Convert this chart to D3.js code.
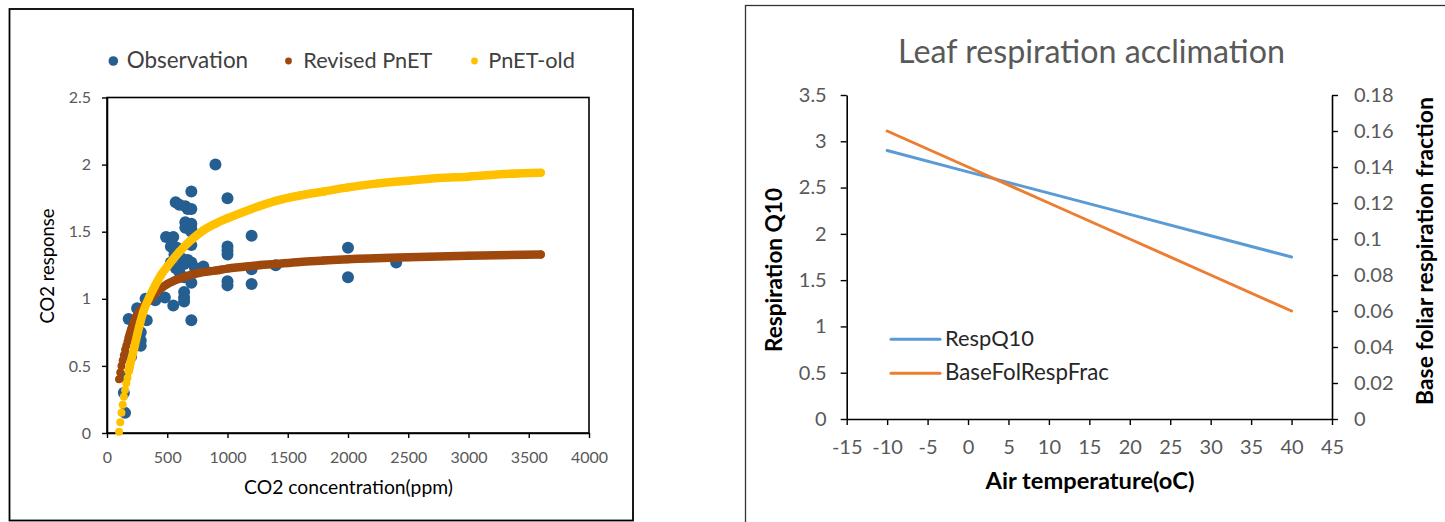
<!DOCTYPE html>
<html>
<head>
<meta charset="utf-8">
<script src="https://cdn.jsdelivr.net/npm/d3@7"></script>
<style>
  html, body { margin: 0; padding: 0; background: #fff; }
  svg { display: block; }
</style>
</head>
<body>
<svg id="chart" width="1445" height="522"></svg>
<script>
// ---------------- DATA: left chart (CO2 response) ----------------
const obsX = [900, 700, 1000, 570, 600, 650, 670, 700, 650, 660, 700, 650, 700, 490, 550, 1200,
  530, 560, 700, 700, 1000, 1000, 1000, 2000, 2000, 1400, 1200, 1200, 1000, 1000, 800,
  530, 570, 600, 640, 670, 700, 730, 640, 700, 640, 640, 640, 550, 700, 480, 400, 320,
  250, 330, 180, 280, 280, 280, 200, 150, 140, 150, 2400, 580, 560, 620];
const obsY = [2.00, 1.80, 1.75, 1.72, 1.70, 1.69, 1.67, 1.67, 1.57, 1.55, 1.56, 1.53, 1.52, 1.46, 1.46, 1.47,
  1.39, 1.36, 1.50, 1.40, 1.39, 1.36, 1.33, 1.38, 1.16, 1.25, 1.22, 1.11, 1.13, 1.10, 1.24,
  1.27, 1.23, 1.20, 1.26, 1.29, 1.27, 1.23, 1.16, 1.12, 1.05, 1.01, 0.98, 0.95, 0.84, 1.01, 0.99, 1.00,
  0.93, 0.84, 0.85, 0.75, 0.69, 0.65, 0.57, 0.42, 0.30, 0.15, 1.27, 1.38, 1.33, 1.30];

const revisedX = [100, 110, 120, 130, 140, 150, 160, 170, 180, 190, 200, 225, 250, 275, 300, 350, 400, 450,
  500, 600, 700, 800, 900, 1000, 1200, 1400, 1600, 1800, 2000, 2500, 3000, 3600];
const revisedY = [0.40, 0.45, 0.50, 0.54, 0.58, 0.62, 0.65, 0.68, 0.71, 0.74, 0.77, 0.83, 0.88, 0.91, 0.94, 0.99, 1.04, 1.08,
  1.11, 1.15, 1.18, 1.20, 1.21, 1.225, 1.245, 1.26, 1.275, 1.285, 1.295, 1.31, 1.32, 1.33];

const oldX = [100, 110, 120, 130, 140, 150, 160, 170, 180, 190, 200, 225, 250, 275, 300, 350, 400, 450,
  500, 600, 700, 800, 900, 1000, 1200, 1400, 1600, 1800, 2000, 2250, 2500, 2750, 3000, 3300, 3600];
const oldY = [0.01, 0.08, 0.15, 0.21, 0.27, 0.32, 0.37, 0.41, 0.46, 0.50, 0.54, 0.63, 0.73, 0.82, 0.90, 1.01, 1.10, 1.18,
  1.24, 1.35, 1.44, 1.51, 1.56, 1.60, 1.67, 1.73, 1.77, 1.80, 1.83, 1.86, 1.88, 1.90, 1.91, 1.93, 1.94];

const leftSeriesNames = ["Observation", "Revised PnET", "PnET-old"];
const leftXTicks = [0, 500, 1000, 1500, 2000, 2500, 3000, 3500, 4000];
const leftXTickLabels = ["0", "500", "1000", "1500", "2000", "2500", "3000", "3500", "4000"];
const leftYTicks = [0, 0.5, 1, 1.5, 2, 2.5];
const leftYTickLabels = ["0", "0.5", "1", "1.5", "2", "2.5"];

// ---------------- DATA: right chart (Leaf respiration acclimation) ----------------
const tempX = [-10, 0, 10, 20, 30, 40];
const respQ10 = [2.90, 2.67, 2.44, 2.21, 1.98, 1.75];
const baseFolRespFrac = [0.16, 0.14, 0.12, 0.10, 0.08, 0.06];
const rightSeriesNames = ["RespQ10", "BaseFolRespFrac"];
const rightXTicks = [-15, -10, -5, 0, 5, 10, 15, 20, 25, 30, 35, 40, 45];
const rightXTickLabels = ["-15", "-10", "-5", "0", "5", "10", "15", "20", "25", "30", "35", "40", "45"];
const rightYLTicks = [0, 0.5, 1, 1.5, 2, 2.5, 3, 3.5];
const rightYLTickLabels = ["0", "0.5", "1", "1.5", "2", "2.5", "3", "3.5"];
const rightYRTicks = [0, 0.02, 0.04, 0.06, 0.08, 0.1, 0.12, 0.14, 0.16, 0.18];
const rightYRTickLabels = ["0", "0.02", "0.04", "0.06", "0.08", "0.1", "0.12", "0.14", "0.16", "0.18"];

// ---------------- DRAWING ----------------
const svg = d3.select("#chart");
const FONT = "Lato, 'Open Sans', sans-serif";
const GRAY = "#595959";

function fit(sel, w) {
  const n = sel.node();
  const l = n.getComputedTextLength();
  const fs = parseFloat(sel.attr("font-size"));
  if (l > 0) sel.attr("font-size", (fs * w / l).toFixed(2));
  return sel;
}

function styleAxis(g, fontSize) {
  g.select(".domain").attr("stroke", "#000").attr("stroke-width", 1.6);
  g.selectAll(".tick line").attr("stroke", "#000").attr("stroke-width", 1.4);
  g.selectAll(".tick text").attr("fill", GRAY).attr("font-family", FONT).attr("font-size", fontSize);
}

// ===== Left panel =====
svg.append("rect").attr("x", 9.5).attr("y", 9).attr("width", 623.5).attr("height", 511.5)
  .attr("fill", "none").attr("stroke", "#000").attr("stroke-width", 1.8);

const lx = d3.scaleLinear().domain([0, 4000]).range([107, 589]);
const ly = d3.scaleLinear().domain([0, 2.5]).range([433, 97.5]);

// plot area frame
svg.append("rect").attr("x", lx(0)).attr("y", ly(2.5)).attr("width", lx(4000) - lx(0)).attr("height", ly(0) - ly(2.5))
  .attr("fill", "none").attr("stroke", "#000").attr("stroke-width", 1.6);

const lxAxis = svg.append("g").attr("transform", `translate(0,${ly(0)})`)
  .call(d3.axisBottom(lx).tickValues(leftXTicks).tickFormat((d, i) => leftXTickLabels[i]).tickSize(5).tickSizeOuter(0).tickPadding(14));
styleAxis(lxAxis, 16);
const lyAxis = svg.append("g").attr("transform", `translate(${lx(0)},0)`)
  .call(d3.axisLeft(ly).tickValues(leftYTicks).tickFormat((d, i) => leftYTickLabels[i]).tickSize(5).tickSizeOuter(0).tickPadding(11));
styleAxis(lyAxis, 16);

const COL_OBS = "#255E91", COL_REV = "#9E480E", COL_OLD = "#FFC000";

// observations
svg.append("g").selectAll("circle").data(obsX.map((x, i) => [x, obsY[i]])).join("circle")
  .attr("cx", d => lx(d[0])).attr("cy", d => ly(d[1])).attr("r", 6).attr("fill", COL_OBS);

function dotCurve(xs, ys, color) {
  const pts = xs.map((x, i) => [x, ys[i]]);
  const g = svg.append("g");
  const line = d3.line().x(d => lx(d[0])).y(d => ly(d[1])).curve(d3.curveMonotoneX);
  g.append("path").datum(pts.filter(d => d[0] >= 180)).attr("d", line)
    .attr("fill", "none").attr("stroke", color).attr("stroke-width", 8.5).attr("stroke-linecap", "round");
  g.selectAll("circle").data(pts).join("circle")
    .attr("cx", d => lx(d[0])).attr("cy", d => ly(d[1])).attr("r", 4).attr("fill", color);
}
dotCurve(revisedX, revisedY, COL_REV);
dotCurve(oldX, oldY, COL_OLD);

// legend
const legItems = [
  { name: leftSeriesNames[0], color: COL_OBS, r: 4.8, cx: 113.3, tx: 126.7, w: 121.5 },
  { name: leftSeriesNames[1], color: COL_REV, r: 3.4, cx: 288.5, tx: 303.3, w: 129 },
  { name: leftSeriesNames[2], color: COL_OLD, r: 3.4, cx: 474.5, tx: 488.3, w: 86.7 }
];
legItems.forEach(it => {
  svg.append("circle").attr("cx", it.cx).attr("cy", 61).attr("r", it.r).attr("fill", it.color);
  const t = svg.append("text").attr("x", it.tx).attr("y", 68.3).attr("font-family", FONT)
    .attr("font-size", 20).attr("fill", "#404040").text(it.name);
  fit(t, it.w);
});

// axis titles
fit(svg.append("text").attr("transform", "translate(54,266) rotate(-90)").attr("text-anchor", "middle")
  .attr("font-family", FONT).attr("font-size", 16).attr("fill", "#000").text("CO2 response"), 115);
fit(svg.append("text").attr("x", 348.5).attr("y", 494).attr("text-anchor", "middle")
  .attr("font-family", FONT).attr("font-size", 16).attr("fill", "#000").text("CO2 concentration(ppm)"), 209);

// ===== Right panel =====
svg.append("rect").attr("x", 745.5).attr("y", 5.5).attr("width", 720).attr("height", 540)
  .attr("fill", "none").attr("stroke", "#333").attr("stroke-width", 1.3);

const rx = d3.scaleLinear().domain([-15, 45]).range([846.7, 1332]);
const ryL = d3.scaleLinear().domain([0, 3.5]).range([419, 95]);
const ryR = d3.scaleLinear().domain([0, 0.18]).range([419, 95]);

const rxAxis = svg.append("g").attr("transform", `translate(0,${ryL(0)})`)
  .call(d3.axisBottom(rx).tickValues(rightXTicks).tickFormat((d, i) => rightXTickLabels[i]).tickSize(6).tickSizeOuter(0).tickPadding(15));
styleAxis(rxAxis, 20);
const ryLAxis = svg.append("g").attr("transform", `translate(${rx(-15)},0)`)
  .call(d3.axisLeft(ryL).tickValues(rightYLTicks).tickFormat((d, i) => rightYLTickLabels[i]).tickSize(6).tickSizeOuter(0).tickPadding(14));
styleAxis(ryLAxis, 20);
const ryRAxis = svg.append("g").attr("transform", `translate(${rx(45)},0)`)
  .call(d3.axisRight(ryR).tickValues(rightYRTicks).tickFormat((d, i) => rightYRTickLabels[i]).tickSize(6).tickSizeOuter(0).tickPadding(16));
styleAxis(ryRAxis, 20);

const COL_Q10 = "#5B9BD5", COL_FRAC = "#ED7D31";
svg.append("path").datum(tempX.map((x, i) => [x, respQ10[i]]))
  .attr("d", d3.line().x(d => rx(d[0])).y(d => ryL(d[1])))
  .attr("fill", "none").attr("stroke", COL_Q10).attr("stroke-width", 3).attr("stroke-linecap", "round");
svg.append("path").datum(tempX.map((x, i) => [x, baseFolRespFrac[i]]))
  .attr("d", d3.line().x(d => rx(d[0])).y(d => ryR(d[1])))
  .attr("fill", "none").attr("stroke", COL_FRAC).attr("stroke-width", 3).attr("stroke-linecap", "round");

// title
fit(svg.append("text").attr("x", 1091.5).attr("y", 63).attr("text-anchor", "middle")
  .attr("font-family", FONT).attr("font-size", 28).attr("fill", GRAY).text("Leaf respiration acclimation"), 387);

// legend
[[rightSeriesNames[0], COL_Q10, 339.3, 89], [rightSeriesNames[1], COL_FRAC, 373.3, 164]].forEach(([name, col, y, w]) => {
  svg.append("line").attr("x1", 891).attr("x2", 940).attr("y1", y).attr("y2", y)
    .attr("stroke", col).attr("stroke-width", 3).attr("stroke-linecap", "round");
  fit(svg.append("text").attr("x", 945).attr("y", y + 7).attr("font-family", FONT)
    .attr("font-size", 19).attr("fill", "#262626").text(name), w);
});

// axis titles (bold)
fit(svg.append("text").attr("transform", "translate(782,270) rotate(-90)").attr("text-anchor", "middle")
  .attr("font-family", FONT).attr("font-weight", "bold").attr("font-size", 18).attr("fill", "#000").text("Respiration Q10"), 164);
fit(svg.append("text").attr("transform", "translate(1433,251) rotate(-90)").attr("text-anchor", "middle")
  .attr("font-family", FONT).attr("font-weight", "bold").attr("font-size", 18).attr("fill", "#000").text("Base foliar respiration fraction"), 308);
fit(svg.append("text").attr("x", 1090).attr("y", 489).attr("text-anchor", "middle")
  .attr("font-family", FONT).attr("font-weight", "bold").attr("font-size", 18).attr("fill", "#000").text("Air temperature(oC)"), 209);
</script>
</body>
</html>
